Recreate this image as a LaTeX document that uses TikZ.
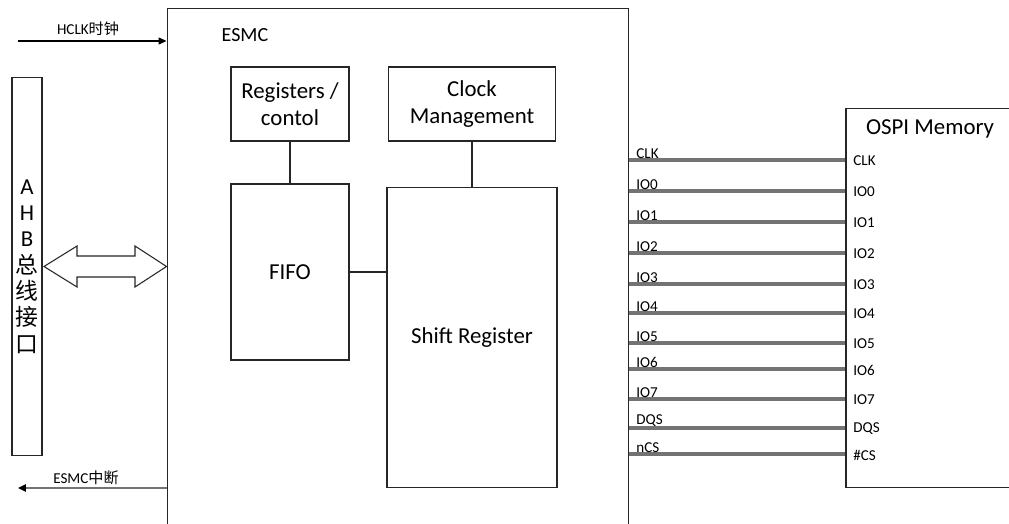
\documentclass[tikz,border=0pt]{standalone}
\usepackage{fontspec}
\setmainfont{Carlito}
\newfontfamily\cjk{Noto Sans CJK SC}
\usetikzlibrary{arrows.meta, positioning}

\begin{document}
\begin{tikzpicture}[
        x=0.02cm, y=-0.02cm,
        box/.style={draw=black!85, line width=0.6pt, align=center, inner sep=0pt, font=\fontsize{13}{15}\selectfont},
        title/.style={inner sep=0pt},
        lbl/.style={inner sep=0pt, font=\fontsize{8.6}{10}\selectfont},
        link/.style={draw=black!85, line width=0.6pt},
        sig/.style={draw=black!55, line width=1.9pt},
        arrow/.style={-{Triangle[length=4.5pt, width=4pt, color=black]}, line width=0.6pt}
    ]
    \clip (0,0) rectangle (1009,524);

    % Nodes
    \node[box, minimum width=0.6cm, minimum height=7.58cm, font=\fontsize{13}{15}\selectfont] (ahb) at (27,266.5)
        {A\\H\\B\\{\cjk 总}\\{\cjk 线}\\{\cjk 接}\\{\cjk 口}};
    \node[box, minimum width=9.24cm, minimum height=10.8cm] (esmc) at (398,278) {};
    \node[title, font=\fontsize{11.4}{13}\selectfont] (esmctitle) at (245,35) {ESMC};

    \node[box, minimum width=2.36cm, minimum height=1.48cm] (regs) at (290,104) {Registers /\\contol};
    \node[box, minimum width=3.34cm, minimum height=1.48cm] (clkm) at (472,104) {Clock\\Management};
    \node[box, minimum width=2.36cm, minimum height=3.52cm] (fifo) at (290,272) {FIFO};
    \node[box, minimum width=3.4cm, minimum height=6.02cm] (shift) at (472,337.5) {Shift Register};

    \node[box, minimum width=3.38cm, minimum height=7.6cm] (ospi) at (930.5,298) {};
    \node[title, font=\fontsize{13}{15}\selectfont] (ospititle) at (930,129) {OSPI Memory};

    % Bus
    \draw[link, fill=white] (44,266.5) -- (77,246) -- (77,256) -- (135,256) -- (135,246) -- (esmc.west |- 0,266.5)
        -- (135,287) -- (135,277) -- (77,277) -- (77,287) -- cycle;

    % Clock in, interrupt out
    \coordinate (hclkin) at (18,41);
    \draw[arrow] (hclkin) -- (hclkin -| esmc.west);
    \node[lbl] (hclk) at (88,29) {HCLK{\cjk 时钟}};

    \coordinate (irqout) at (18,488);
    \draw[arrow, draw=black!55, line width=1.4pt] (irqout -| esmc.west) -- (irqout);
    \node[lbl] (irq) at (86,478) {ESMC{\cjk 中断}};

    % Internal links
    \draw[link] (regs) -- (fifo);
    \draw[link] (clkm) -- (shift);
    \draw[link] (fifo.east) -- (fifo.east -| shift.west);

    % Memory signals
    \foreach \y/\a/\b [count=\i] in {160/CLK/CLK, 191/IO0/IO0, 222/IO1/IO1, 253/IO2/IO2, 284/IO3/IO3,
            313/IO4/IO4, 343/IO5/IO5, 369/IO6/IO6, 399/IO7/IO7, 428/DQS/DQS, 454/nCS/\#CS} {
        \draw[sig] (esmc.east |- 0,\y) -- (ospi.west |- 0,\y);
        \node[lbl, anchor=south west] (sl\i) at (636,\y-1.5) {\a};
        \node[lbl, anchor=west] (sr\i) at (853,\y+1) {\b};
    }

\end{tikzpicture}
\end{document}
